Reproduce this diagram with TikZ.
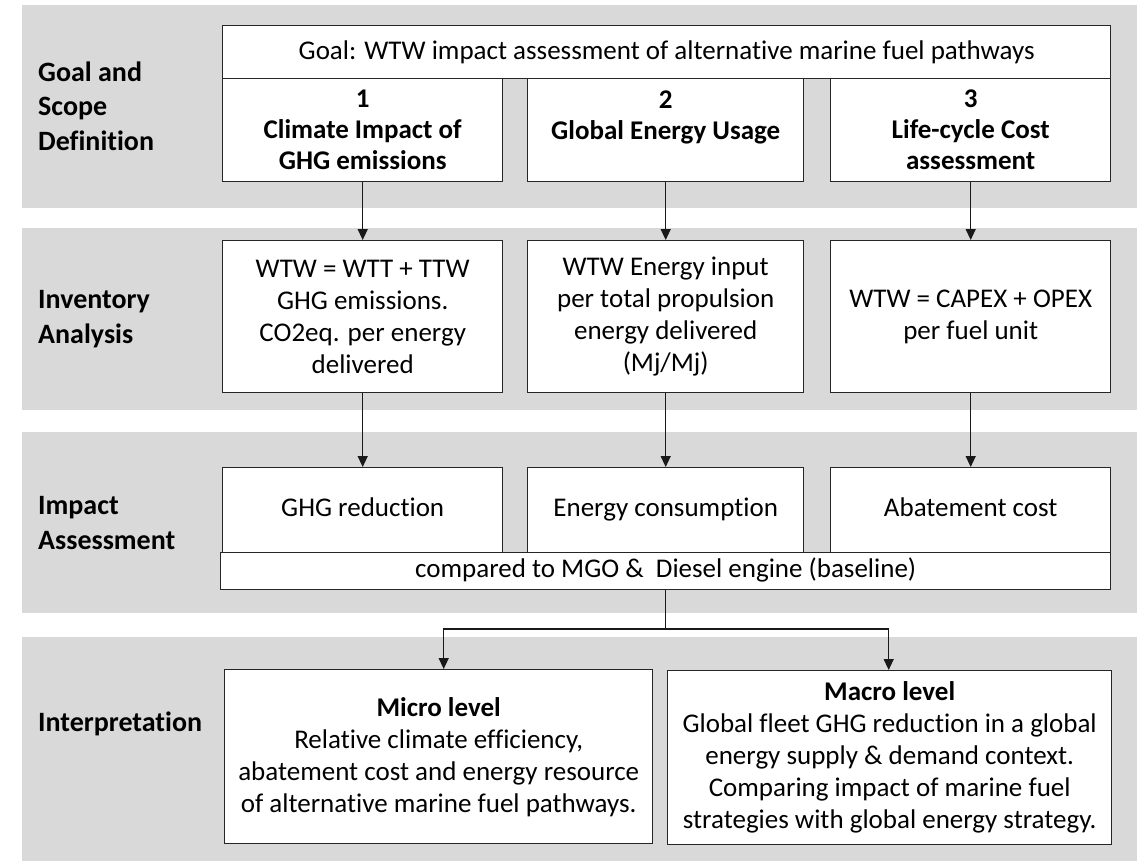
\documentclass[tikz,border=0pt]{standalone}
\usepackage{fontspec}
\setmainfont{Carlito}[Ligatures=NoCommon]
\usetikzlibrary{arrows.meta}
\definecolor{bandgray}{HTML}{D9D9D9}
\tikzset{
  band/.style={fill=bandgray, draw=none},
  box/.style={draw=black!85, line width=1.4pt, fill=white, inner sep=0pt, align=center, font=\fontsize{27}{32}\selectfont, anchor=north west},
  bbox/.style={box, font=\fontsize{27}{31}\selectfont\bfseries},
  lbl/.style={anchor=west, align=left, font=\fontsize{28}{34.5}\selectfont\bfseries, inner sep=0pt},
  arr/.style={draw=black!90, line width=1.4pt, -{Triangle[length=11pt,width=10pt]}},
  ln/.style={draw=black!90, line width=1.4pt},
}
\begin{document}
\begin{tikzpicture}[x=1pt,y=-1pt]
\useasboundingbox (0,0) rectangle (1137,861);
% bands
\fill[band] (22,5) rectangle (1137,208);
\fill[band] (22,228) rectangle (1137,410);
\fill[band] (22,432) rectangle (1137,613);
\fill[band] (22,637) rectangle (1137,861);
% left labels
\node[lbl] (l1) at (38,106) {Goal and\\Scope\\Definition};
\node[lbl] (l2) at (38,319) {Inventory\\Analysis};
\node[lbl] (l3) at (38,523) {Impact\\Assessment};
\node[lbl] (l4) at (38,724) {Interpretation};
% goal
\node[box, minimum width=888pt, minimum height=53pt] (goal) at (222,25) {Goal: WTW impact assessment of alternative marine fuel pathways};
\node[bbox, minimum width=280pt, minimum height=103pt] (g1) at (222,78) {1\\Climate Impact of\\GHG emissions};
\node[bbox, minimum width=276pt, minimum height=103pt] (g2) at (527,78) {2\\Global Energy Usage\\\mbox{}};
\node[bbox, minimum width=280pt, minimum height=103pt] (g3) at (830,78) {3\\Life-cycle Cost\\assessment};
% inventory
\node[box, minimum width=280pt, minimum height=152pt] (i1) at (222,240) {WTW = WTT + TTW\\GHG emissions.\\CO2eq. per energy\\delivered};
\node[box, minimum width=276pt, minimum height=152pt] (i2) at (527,240) {WTW Energy input\\per total propulsion\\energy delivered\\(Mj/Mj)};
\node[box, minimum width=280pt, minimum height=152pt] (i3) at (830,240) {WTW = CAPEX + OPEX\\per fuel unit};
% impact
\node[box, minimum width=280pt, minimum height=85pt] (a1) at (222,467) {\strut GHG reduction};
\node[box, minimum width=276pt, minimum height=85pt] (a2) at (527,467) {\strut Energy consumption};
\node[box, minimum width=280pt, minimum height=85pt] (a3) at (830,467) {\strut Abatement cost};
\node[box, minimum width=890pt, minimum height=37pt] (base) at (220,552) {\strut compared to MGO \&\ \ Diesel engine (baseline)};
% interpretation
\node[box, minimum width=428pt, minimum height=174pt] (micro) at (224,669) {\textbf{Micro level}\\Relative climate efficiency,\\abatement cost and energy resource\\of alternative marine fuel pathways.};
\node[box, minimum width=444pt, minimum height=174pt] (macro) at (667,670) {\textbf{Macro level}\\Global fleet GHG reduction in a global\\energy supply \& demand context.\\Comparing impact of marine fuel\\strategies with global energy strategy.};
% arrows
\draw[arr] (g1.south) -- (i1.north);
\draw[arr] (g2.south) -- (i2.north);
\draw[arr] (g3.south) -- (i3.north);
\draw[arr] (i1.south) -- (a1.north);
\draw[arr] (i2.south) -- (a2.north);
\draw[arr] (i3.south) -- (a3.north);
\coordinate (split) at (base.south |- 0,629);
\draw[ln] (base.south) -- (split);
\draw[arr] (split) -| ([xshift=5pt]micro.north);
\draw[arr] (split) -| ([xshift=-1pt]macro.north);
\end{tikzpicture}
\end{document}
